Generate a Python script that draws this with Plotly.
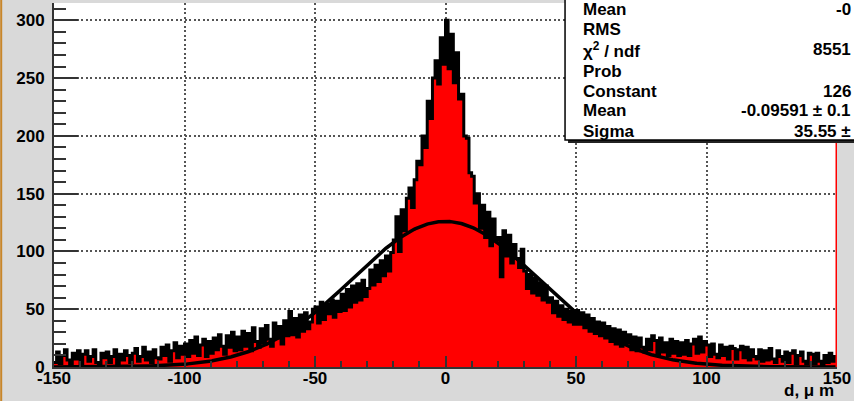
import numpy as np
import plotly.graph_objects as go

# Histogram range and per-bin counts (1 um bins from -150 to 150)
x_lo, x_hi = -150.0, 150.0
counts = (
    [4, 13, 3, 10, 15, 6, 2, 12, 7, 14]           # -150 .. -141
    + [3, 11, 14, 5, 9, 15, 4, 2, 12, 8]          # -140 .. -131
    + [13, 4, 9, 15, 3, 11, 6, 14, 10, 4]         # -130 .. -121
    + [12, 16, 5, 9, 17, 6, 13, 4, 15, 8]         # -120 .. -111
    + [7, 17, 10, 19, 5, 14, 21, 8, 18, 11]       # -110 .. -101
    + [20, 9, 23, 12, 26, 10, 19, 24, 9, 22]      # -100 .. -91
    + [12, 25, 15, 28, 18, 11, 27, 17, 30, 14]    # -90 .. -81
    + [26, 15, 31, 18, 29, 14, 34, 22, 17, 33]    # -80 .. -71
    + [21, 36, 24, 18, 38, 25, 35, 20, 40, 27]    # -70 .. -61
    + [48, 28, 42, 26, 45, 31, 47, 33, 39, 50]    # -60 .. -51
    + [52, 38, 56, 41, 54, 46, 58, 43, 57, 48]    # -50 .. -41
    + [63, 49, 67, 52, 70, 56, 72, 58, 75, 61]    # -40 .. -31
    + [68, 84, 71, 88, 74, 92, 79, 96, 83, 99]    # -30 .. -21
    + [110, 130, 100, 136, 118, 146, 155, 138, 162, 178]  # -20 .. -11
    + [175, 200, 190, 230, 215, 250, 265, 245, 285, 262]  # -10 .. -1
    + [300, 258, 288, 246, 272, 232, 236, 200, 198, 168]  # 0 .. 9
    + [165, 142, 150, 120, 140, 112, 134, 105, 128, 110]  # 10 .. 19
    + [112, 78, 118, 96, 114, 90, 106, 94, 86, 102]       # 20 .. 29
    + [83, 68, 80, 64, 77, 62, 73, 58, 70, 56]    # 30 .. 39
    + [60, 47, 57, 44, 53, 41, 50, 39, 48, 37]    # 40 .. 49
    + [49, 37, 47, 34, 45, 31, 42, 29, 39, 27]    # 50 .. 59
    + [38, 25, 35, 22, 33, 20, 32, 18, 30, 21]    # 60 .. 69
    + [28, 15, 26, 14, 25, 17, 13, 24, 15, 27]    # 70 .. 79
    + [23, 11, 25, 13, 21, 10, 24, 12, 22, 10]    # 80 .. 89
    + [21, 11, 23, 10, 20, 24, 12, 26, 13, 22]    # 90 .. 99
    + [19, 9, 20, 11, 8, 19, 10, 17, 7, 18]       # 100 .. 109
    + [16, 7, 15, 18, 8, 17, 6, 15, 9, 7]         # 110 .. 119
    + [15, 5, 14, 6, 16, 7, 4, 14, 9, 5]          # 120 .. 129
    + [13, 4, 12, 14, 3, 10, 13, 5, 3, 12]        # 130 .. 139
    + [11, 3, 12, 5, 2, 10, 4, 12, 5, 9]          # 140 .. 149
)

# Gaussian fit parameters (as listed in the statistics box)
fit_constant = 126.0
fit_mean = -0.09591
fit_sigma = 35.55

x_ticks = [-150, -100, -50, 0, 50, 100, 150]
x_tick_text = ["-150", "-100", "-50", "0", "50", "100", "150"]
y_ticks = [0, 50, 100, 150, 200, 250, 300]
y_tick_text = ["0", "50", "100", "150", "200", "250", "300"]
x_title = "d, \u03bc m"

stats_labels = ["Mean", "RMS", "\u03c7<sup>2</sup> / ndf", "Prob", "Constant", "Mean", "Sigma"]
stats_values = ["-0", "", "8551", "", "126", "-0.09591 \u00b1 0.1", "35.55 \u00b1"]

# ---------------------------------------------------------------------------
W, H = 854, 401
L, R, T, B = 54, 14, 3, 34
plot_w = W - L - R
plot_h = H - T - B


def px_x(p):
    return (p - L) / plot_w


def px_y(p):
    return (H - B - p) / plot_h


edges = np.linspace(x_lo, x_hi, len(counts) + 1)
step_x = list(edges[:-1]) + [x_hi]
step_y = list(counts) + [counts[-1]]

fit_x = np.linspace(x_lo, x_hi, 901)
fit_y = fit_constant * np.exp(-0.5 * ((fit_x - fit_mean) / fit_sigma) ** 2)

bold = dict(family="Liberation Sans, Arial, sans-serif", size=17, color="black", weight="bold")

fig = go.Figure()
fig.add_trace(go.Scatter(
    x=step_x, y=step_y, mode="lines", line_shape="hv",
    line=dict(color="black", width=3),
    fill="tozeroy", fillcolor="#ff0000",
    hoverinfo="skip", showlegend=False,
))
fig.add_trace(go.Scatter(
    x=fit_x, y=fit_y, mode="lines",
    line=dict(color="black", width=3.5),
    hoverinfo="skip", showlegend=False,
))

axis_common = dict(
    ticks="inside", tickwidth=2, tickcolor="#333333",
    showline=True, linecolor="#333333", linewidth=2,
    showgrid=True, gridcolor="#555555", gridwidth=1.5, griddash="2px,2.5px",
    zeroline=False, tickfont=bold, tickmode="array", ticklabeloverflow="allow",
)

fig.update_xaxes(
    range=[x_lo, x_hi], tickvals=x_ticks, ticktext=x_tick_text, ticklen=11,
    ticklabelstandoff=-5,
    minor=dict(tickmode="linear", tick0=0, dtick=10, ticks="inside",
               ticklen=6, tickwidth=2, tickcolor="#333333", showgrid=False),
    **axis_common,
)
fig.update_yaxes(
    range=[0, 315], tickvals=y_ticks, ticktext=y_tick_text, ticklen=24,
    ticklabelstandoff=4,
    minor=dict(tickmode="linear", tick0=0, dtick=10, ticks="inside",
               ticklen=12, tickwidth=2, tickcolor="#333333", showgrid=False),
    **axis_common,
)

shapes = [
    # red edge line at the upper end of the histogram range
    dict(type="line", xref="x", yref="paper", x0=x_hi, x1=x_hi, y0=0, y1=1,
         line=dict(color="#ff0000", width=3), layer="above"),
    # statistics box: shadow then box
    dict(type="rect", xref="paper", yref="paper",
         x0=px_x(570), x1=px_x(910), y0=px_y(143), y1=px_y(-20),
         fillcolor="#222222", line=dict(width=0), layer="above"),
    dict(type="rect", xref="paper", yref="paper",
         x0=px_x(567), x1=px_x(905), y0=px_y(140), y1=px_y(-20),
         fillcolor="white", line=dict(color="black", width=1.5), layer="above"),
    # orange strip along the left border of the canvas
    dict(type="rect", xref="paper", yref="paper",
         x0=px_x(0), x1=px_x(2), y0=px_y(H), y1=px_y(0),
         fillcolor="#c8862a", line=dict(width=0), layer="above"),
]

annotations = []
row_y = [9, 30, 50, 71, 91, 111, 131]
for lab, val, yy in zip(stats_labels, stats_values, row_y):
    annotations.append(dict(
        text=lab, xref="paper", yref="paper", x=px_x(583), y=px_y(yy),
        xanchor="left", yanchor="middle", showarrow=False, font=bold,
    ))
    if val:
        annotations.append(dict(
            text=val, xref="paper", yref="paper", x=px_x(856), y=px_y(yy),
            xanchor="right", yanchor="middle", showarrow=False, font=bold,
        ))
annotations.append(dict(
    text=x_title, xref="paper", yref="paper", x=px_x(839), y=px_y(390),
    xanchor="right", yanchor="middle", showarrow=False, font=bold,
))

fig.update_layout(
    width=W, height=H,
    margin=dict(l=L, r=R, t=T, b=B, pad=0),
    paper_bgcolor="#d9d9d9", plot_bgcolor="white",
    shapes=shapes, annotations=annotations, showlegend=False,
)

fig.write_html("out.html")
